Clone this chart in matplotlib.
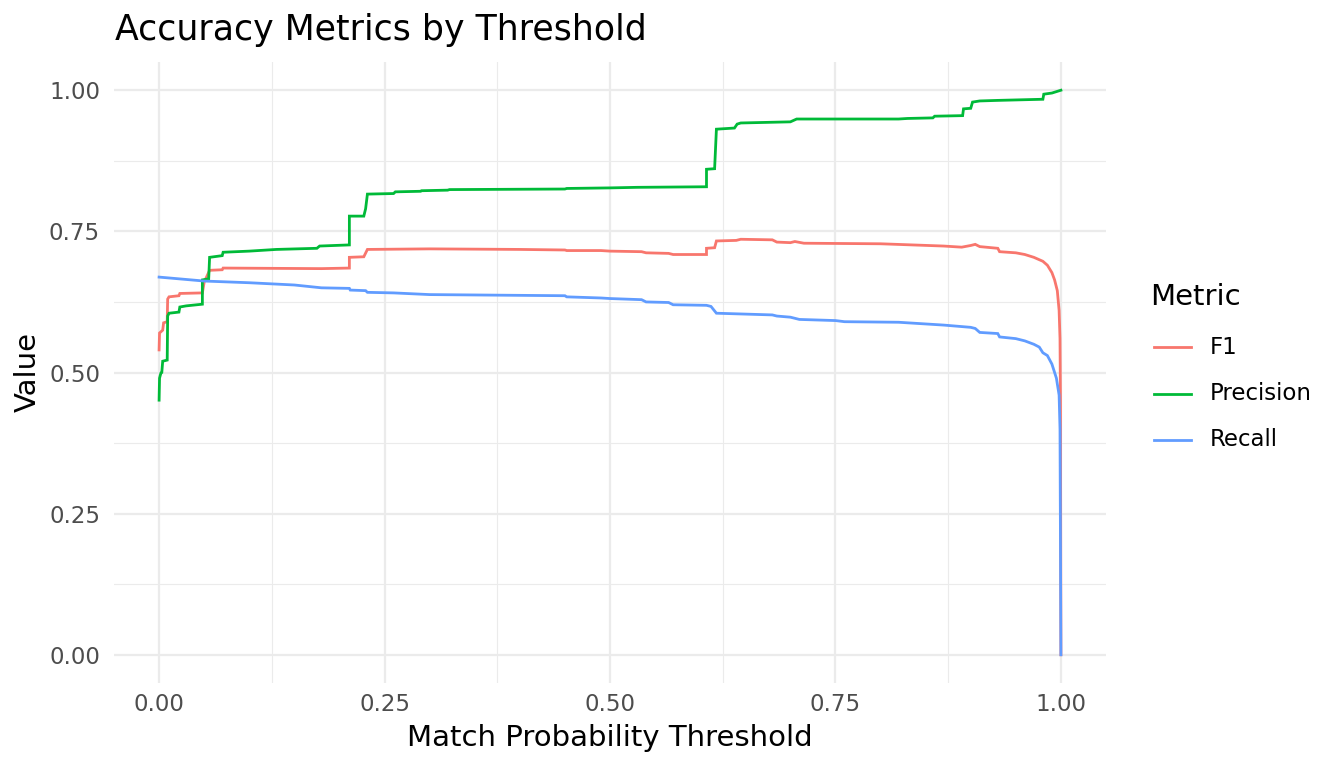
import matplotlib
matplotlib.use("Agg")
import matplotlib.pyplot as plt
from matplotlib.lines import Line2D
from matplotlib.ticker import MultipleLocator

# ---- data ----
prec_x = [0, 0.0005, 0.002, 0.003, 0.004, 0.009, 0.0095, 0.011, 0.022, 0.023, 0.03, 0.048, 0.048, 0.055,
          0.056, 0.07, 0.071, 0.10, 0.13, 0.175, 0.178, 0.211, 0.211, 0.227, 0.229, 0.231, 0.26, 0.262,
          0.29, 0.291, 0.32, 0.322, 0.45, 0.452, 0.50, 0.53, 0.607, 0.607, 0.616, 0.618, 0.638, 0.641,
          0.645, 0.70, 0.707, 0.82, 0.83, 0.858, 0.86, 0.891, 0.892, 0.90, 0.902, 0.91, 0.93, 0.98,
          0.981, 0.99, 1.0]
prec_y = [0.451, 0.49, 0.499, 0.50, 0.52, 0.522, 0.60, 0.605, 0.607, 0.616, 0.618, 0.621, 0.664, 0.666,
          0.704, 0.707, 0.713, 0.715, 0.718, 0.720, 0.724, 0.726, 0.777, 0.777, 0.79, 0.816, 0.817, 0.820,
          0.821, 0.822, 0.823, 0.824, 0.825, 0.826, 0.827, 0.828, 0.829, 0.860, 0.861, 0.931, 0.933, 0.940,
          0.942, 0.944, 0.949, 0.949, 0.950, 0.951, 0.954, 0.955, 0.967, 0.968, 0.979, 0.981, 0.982, 0.984,
          0.993, 0.995, 1.0]

f1_x = [0, 0.0005, 0.004, 0.005, 0.009, 0.0095, 0.011, 0.022, 0.023, 0.048, 0.05, 0.056, 0.07, 0.071,
        0.18, 0.211, 0.211, 0.227, 0.231, 0.30, 0.40, 0.45, 0.452, 0.49, 0.50, 0.535, 0.54, 0.565, 0.57,
        0.607, 0.607, 0.616, 0.618, 0.64, 0.645, 0.68, 0.685, 0.70, 0.705, 0.715, 0.80, 0.87, 0.89, 0.90,
        0.905, 0.91, 0.93, 0.932, 0.95, 0.96, 0.97, 0.98, 0.985, 0.99, 0.993, 0.996, 0.998, 0.999, 0.9995,
        1.0]
f1_y = [0.540, 0.57, 0.575, 0.588, 0.590, 0.630, 0.634, 0.636, 0.640, 0.641, 0.66, 0.681, 0.682, 0.685,
        0.684, 0.685, 0.704, 0.705, 0.718, 0.719, 0.718, 0.717, 0.716, 0.716, 0.715, 0.714, 0.712, 0.711,
        0.709, 0.709, 0.720, 0.721, 0.733, 0.734, 0.736, 0.735, 0.731, 0.730, 0.732, 0.729, 0.728, 0.724,
        0.722, 0.725, 0.727, 0.723, 0.720, 0.714, 0.712, 0.709, 0.704, 0.697, 0.690, 0.677, 0.664, 0.645,
        0.610, 0.560, 0.45, 0.0]

rec_x = [0, 0.05, 0.10, 0.125, 0.15, 0.18, 0.211, 0.212, 0.229, 0.231, 0.26, 0.30, 0.45, 0.452, 0.49,
         0.50, 0.535, 0.54, 0.565, 0.57, 0.607, 0.612, 0.618, 0.68, 0.685, 0.70, 0.71, 0.75, 0.76, 0.82,
         0.87, 0.90, 0.905, 0.91, 0.93, 0.932, 0.95, 0.96, 0.97, 0.976, 0.98, 0.985, 0.99, 0.995, 0.998,
         0.999, 1.0]
rec_y = [0.669, 0.662, 0.659, 0.657, 0.655, 0.650, 0.649, 0.646, 0.645, 0.642, 0.641, 0.638, 0.636, 0.634,
         0.632, 0.631, 0.629, 0.625, 0.624, 0.620, 0.619, 0.617, 0.605, 0.602, 0.600, 0.598, 0.594, 0.592,
         0.590, 0.589, 0.584, 0.580, 0.578, 0.571, 0.569, 0.563, 0.560, 0.556, 0.550, 0.545, 0.535, 0.530,
         0.515, 0.49, 0.46, 0.40, 0.0]

metrics = ["F1", "Precision", "Recall"]
colors = ["#F8766D", "#00BA38", "#619CFF"]
x_ticks = [0.00, 0.25, 0.50, 0.75, 1.00]
y_ticks = [0.00, 0.25, 0.50, 0.75, 1.00]
tick_labels = ["0.00", "0.25", "0.50", "0.75", "1.00"]

plt.rcParams['font.family'] = ['DejaVu Sans']

W, H = 1344, 768
fig = plt.figure(figsize=(W / 100, H / 100), dpi=100)
L, R, T, B = 114, 1106, 62, 683
ax = fig.add_axes([L / W, 1 - B / H, (R - L) / W, (B - T) / H])

series = [(f1_x, f1_y), (prec_x, prec_y), (rec_x, rec_y)]
for (xs, ys), c in zip(series, colors):
    ax.plot(xs, ys, color=c, linewidth=2.0, solid_joinstyle='miter', zorder=3)

ax.set_xlim(-0.05, 1.05)
ax.set_ylim(-0.05, 1.05)
ax.set_xticks(x_ticks)
ax.set_xticklabels(tick_labels)
ax.set_yticks(y_ticks)
ax.set_yticklabels(tick_labels)
ax.xaxis.set_minor_locator(MultipleLocator(0.125))
ax.yaxis.set_minor_locator(MultipleLocator(0.125))
ax.grid(which='major', color='#EBEBEB', linewidth=1.6, zorder=0)
ax.grid(which='minor', color='#EBEBEB', linewidth=0.8, zorder=0)
ax.set_axisbelow(True)
for s in ax.spines.values():
    s.set_visible(False)
ax.tick_params(which='both', length=0, labelsize=16.5, labelcolor='#4D4D4D')
ax.tick_params(axis='x', pad=7)
ax.tick_params(axis='y', pad=10)

fig.text(610 / W, 1 - 738 / H, "Match Probability Threshold", fontsize=21, ha='center', va='center')
fig.text(28 / W, 1 - 372 / H, "Value", fontsize=21, ha='center', va='center', rotation=90)
fig.text(115 / W, 1 - 30 / H, "Accuracy Metrics by Threshold", fontsize=25, ha='left', va='center')

# legend
fig.text(1150 / W, 1 - 297 / H, "Metric", fontsize=21, ha='left', va='center')
for i, (m, c) in enumerate(zip(metrics, colors)):
    yy = 1 - (347 + 46.5 * i) / H
    fig.add_artist(Line2D([1154 / W, 1191 / W], [yy, yy], color=c, linewidth=2.0,
                          transform=fig.transFigure))
    fig.text(1210 / W, yy, m, fontsize=16.5, ha='left', va='center')

fig.savefig("out.png", dpi=100)
